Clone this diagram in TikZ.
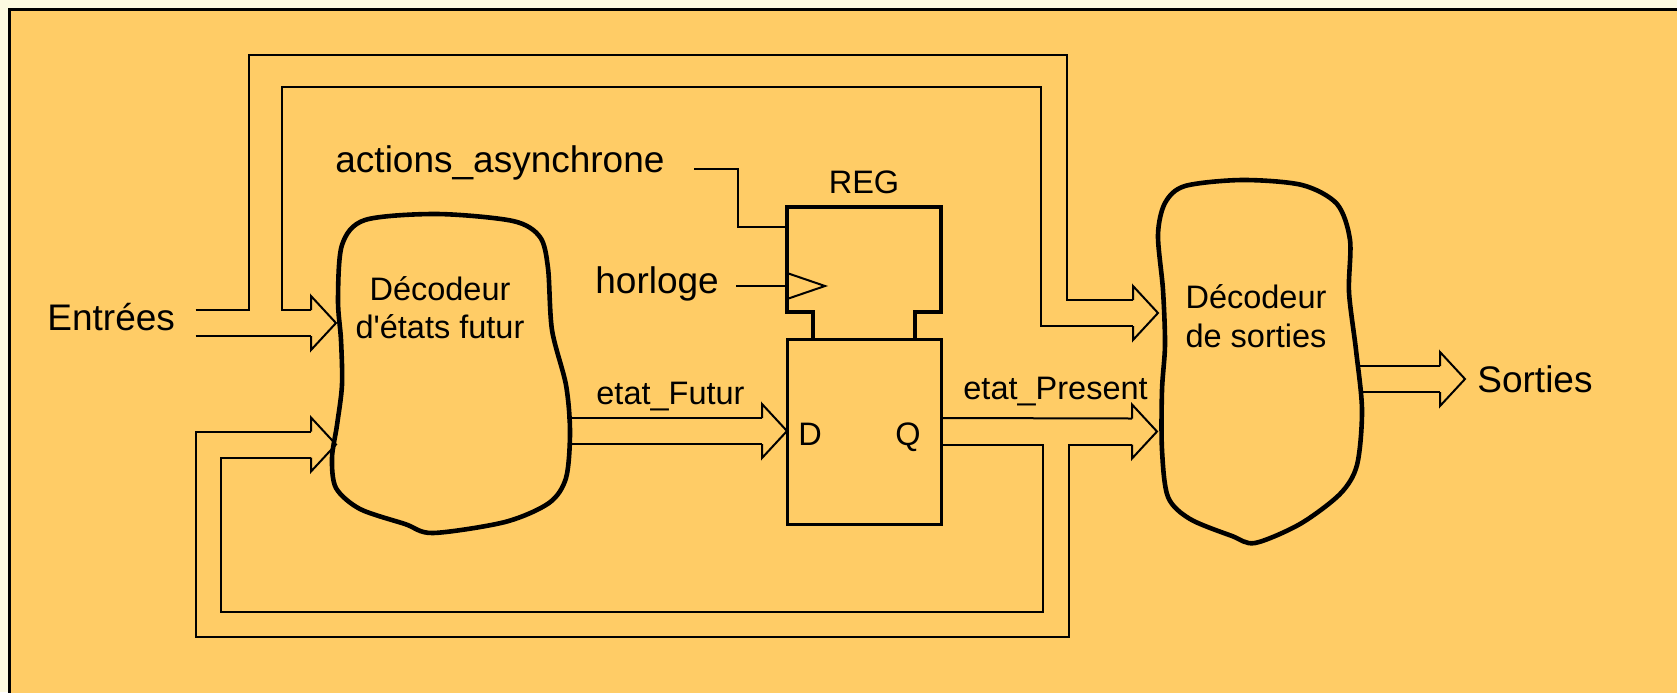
\documentclass[tikz,border=0pt]{standalone}
\usepackage{fontspec}
\setmainfont{Liberation Sans}
\usetikzlibrary{calc}
\definecolor{panel}{HTML}{FFCC66}
\definecolor{paper}{HTML}{FDFAE1}
\tikzset{
  wire/.style={line width=1pt},
  blob/.style={line width=2.3pt, line join=round},
  big/.style={font=\fontsize{18.5}{22}\selectfont, inner sep=0pt},
  small/.style={font=\fontsize{16.25}{19}\selectfont, inner sep=0pt},
}
% hollow head of a bus arrow, base centre given
\newcommand{\bushead}[1]{\draw[wire] ($(#1)+(0,-13)$) -- ($(#1)+(0,-27)$) -- ($(#1)+(25,0)$) -- ($(#1)+(0,27)$) -- ($(#1)+(0,13)$);}

\begin{document}
\begin{tikzpicture}[x=0.5pt,y=-0.5pt]
  \useasboundingbox (0,0) rectangle (1677,692);
  \clip (0,0) rectangle (1677,692);
  % Page and panel
  \fill[paper] (0,0) rectangle (1677,692);
  \draw[line width=1.5pt, fill=panel] (9,9) rectangle (1700,720);
  % Arrow heads
  \coordinate (aL1) at (311,323);
  \coordinate (aL2) at (311,444.5);
  \coordinate (aF) at (762,431);
  \coordinate (aR1) at (1133,313);
  \coordinate (aR2) at (1132,431.5);
  \coordinate (aS) at (1440,379);
  \bushead{aL1} \bushead{aL2} \bushead{aF}
  \bushead{aR1} \bushead{aR2} \bushead{aS}
  % Decoders
  \draw[blob] plot[smooth cycle] coordinates {(338,300) (342,245) (365,220) (437,214) (513,221) (540,237) (548,268) (552,330) (566,385) (570,432) (566,478) (549,503) (505,522) (433,533) (405,524) (360,509) (336,488) (332,458) (337,425) (342,385) (341,340)};
  \draw[blob] plot[smooth cycle] coordinates {(1163,290) (1158,235) (1165,203) (1185,186) (1242,180) (1302,185) (1337,204) (1350,240) (1349,292) (1356,350) (1362,410) (1357,465) (1340,494) (1300,524) (1255,543) (1232,536) (1190,519) (1168,497) (1162,450) (1162,390) (1165,345)};
  \node[small, anchor=base] (nsdA) at (440,300) {Décodeur};
  \node[small, anchor=base] (nsdB) at (440,338) {d\textquotesingle états futur};
  \node[small, anchor=base] (osdA) at (1256,308) {Décodeur};
  \node[small, anchor=base] (osdB) at (1256,347) {de sorties};
  % Register
  \node[draw, line width=1.5pt, minimum width=77pt, minimum height=92.5pt, inner sep=0pt] (dff) at (864,431.5) {};
  \draw[line width=2pt] (813,339) -- (813,312) -- (787,312) -- (787,207) -- (941,207) -- (941,312) -- (915,312) -- (915,339);
  \draw[wire] (787,273) -- (825,286) -- (787,299);
  \node[small, anchor=base] (reg) at (864,193) {REG};
  \node[small, anchor=base west] (dpin) at (798,445) {D};
  \node[small, anchor=base west] (qpin) at (895,445) {Q};
  % Labels
  \node[big, anchor=base west] (entrees) at (47,330) {Entrées};
  \node[big, anchor=base west] (async) at (335,172) {actions\_asynchrone};
  \node[big, anchor=base west] (clk) at (595,293) {horloge};
  \node[big, anchor=base west] (sorties) at (1477,392) {Sorties};
  \node[small, anchor=base west] (futur) at (596,404) {etat\_Futur};
  \node[small, anchor=base west] (present) at (963,399) {etat\_Present};
  % Control wires
  \draw[wire] (694,169) -| (738,227) -- (787,227);
  \draw[wire] (736,286) -- (787,286);
  % Entrees bus
  \draw[wire] (195.5,336) -- ($(aL1)+(0,13)$);
  \draw[wire] (195.5,310) -| (248.7,55) -| (1067,300) -- ($(aR1)+(0,-13)$);
  \draw[wire] ($(aL1)+(0,-13)$) -| (282,87) -| (1041,326) -- ($(aR1)+(0,13)$);
  % Next state
  \draw[wire] (567,418) -- ($(aF)+(0,-13)$);
  \draw[wire] (569,444) -- ($(aF)+(0,13)$);
  % Present state and feedback
  \draw[wire] ($(dff.east)+(0,-13.5)$) -- ($(aR2)+(0,-13)$);
  \draw[wire] ($(dff.east)+(0,13)$) -| (1043,612) -| (221,457.5) -- ($(aL2)+(0,13)$);
  \draw[wire] ($(aR2)+(0,13)$) -| (1069,637) -| (196,431.5) -- ($(aL2)+(0,-13)$);
  % Outputs
  \draw[wire] (1360,366) -- ($(aS)+(0,-13)$);
  \draw[wire] (1362,392) -- ($(aS)+(0,13)$);
\end{tikzpicture}
\end{document}
